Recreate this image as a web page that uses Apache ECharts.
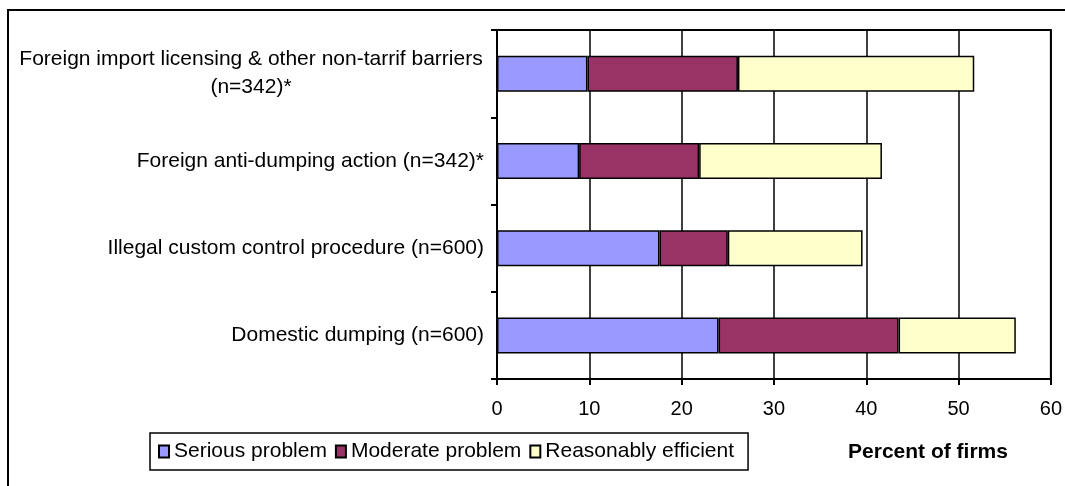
<!DOCTYPE html>
<html>
<head>
<meta charset="utf-8">
<script src="https://cdn.jsdelivr.net/npm/echarts@6/dist/echarts.min.js"></script>
<style>
  html, body { margin: 0; padding: 0; background: #fff; }
  #chart { width: 1065px; height: 486px; }
</style>
</head>
<body>
<div id="chart"></div>
<script>
// Trade barrier categories, top to bottom
const categories = [
  'Foreign import licensing & other non-tarrif barriers (n=342)*',
  'Foreign anti-dumping action (n=342)*',
  'Illegal custom control procedure (n=600)',
  'Domestic dumping (n=600)'
];
// Percent of firms per rating
const seriousProblem = [9.8, 8.9, 17.6, 24.0];
const moderateProblem = [16.3, 13.0, 7.4, 19.5];
const reasonablyEfficient = [25.6, 19.8, 14.6, 12.7];
const seriesNames = ['Serious problem', 'Moderate problem', 'Reasonably efficient'];
const xTicks = { min: 0, max: 60, step: 10 };
const axisTitle = 'Percent of firms';

const FONT = '"Liberation Sans", Arial, sans-serif';
const colors = ['#9999FF', '#993366', '#FFFFCC'];
const values = [seriousProblem, moderateProblem, reasonablyEfficient];

const chart = echarts.init(document.getElementById('chart'), null, { renderer: 'canvas' });

// Long first label wraps onto two centred lines
function labelFormatter(value) {
  const m = value.match(/^(.*barriers) (\(n=342\)\*)$/);
  if (m) return '{w|' + m[1] + '}\n{w|' + m[2] + '}';
  return '{r|' + value + '}';
}

chart.setOption({
  animation: false,
  backgroundColor: '#fff',
  textStyle: { fontFamily: FONT },
  grid: {
    left: 497, right: 12, top: 30, bottom: 107,
    show: true, borderColor: '#000', borderWidth: 2, backgroundColor: 'transparent'
  },
  legend: {
    left: 150, top: 433,
    orient: 'horizontal',
    data: seriesNames,
    itemWidth: 10, itemHeight: 12, itemGap: 8,
    padding: [8, 14, 8, 8],
    borderColor: '#000', borderWidth: 1.5,
    textStyle: { fontFamily: FONT, fontSize: 21, color: '#000' },
    icon: 'rect'
  },
  graphic: [
    {
      type: 'rect', z: -10, silent: true,
      shape: { x: 8, y: 10, width: 1100, height: 520 },
      style: { fill: 'none', stroke: '#000', lineWidth: 2 }
    },
    {
      type: 'text', silent: true,
      style: {
        x: 928, y: 452, text: axisTitle,
        textAlign: 'center', textVerticalAlign: 'middle',
        font: 'bold 21px ' + FONT, fill: '#000'
      }
    }
  ],
  xAxis: {
    type: 'value',
    min: xTicks.min, max: xTicks.max, interval: xTicks.step,
    axisLine: { show: true, lineStyle: { color: '#000', width: 2 } },
    axisTick: { show: true, length: 6, lineStyle: { color: '#000', width: 2 } },
    splitLine: { show: true, lineStyle: { color: '#000', width: 1.5 } },
    axisLabel: { color: '#000', fontSize: 20, fontFamily: FONT, margin: 20 }
  },
  yAxis: {
    type: 'category',
    inverse: true,
    data: categories,
    axisLine: { show: true, lineStyle: { color: '#000', width: 2 } },
    axisTick: { show: true, length: 6, interval: 0, lineStyle: { color: '#000', width: 2 } },
    axisLabel: {
      color: '#000', fontSize: 21, fontFamily: FONT, margin: 13,
      formatter: labelFormatter,
      rich: {
        w: { fontSize: 21, fontFamily: FONT, color: '#000', width: 466, align: 'center', lineHeight: 28 },
        r: { fontSize: 21, fontFamily: FONT, color: '#000' }
      }
    }
  },
  series: seriesNames.map((name, i) => ({
    name: name,
    type: 'bar',
    stack: 'total',
    barWidth: 36,
    data: values[i],
    itemStyle: { color: colors[i], borderColor: '#000', borderWidth: 1.5 },
    emphasis: { disabled: true }
  }))
});
</script>
</body>
</html>
